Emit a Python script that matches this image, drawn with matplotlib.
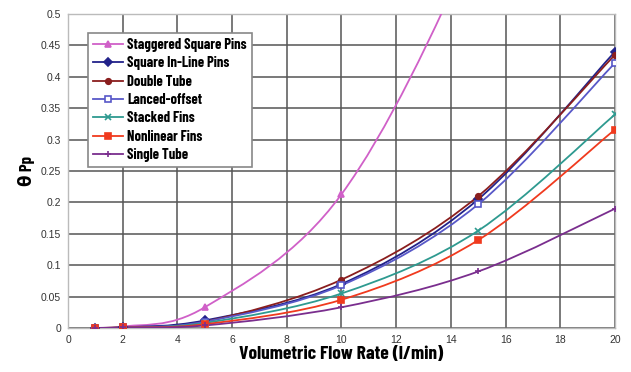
import matplotlib
matplotlib.use('Agg')
import matplotlib.pyplot as plt
import numpy as np
from matplotlib.path import Path
from matplotlib.patches import PathPatch
from matplotlib.lines import Line2D

narrow = ['Liberation Sans Narrow', 'Barlow Condensed', 'DejaVu Sans']
plt.rcParams['font.family'] = ['Liberation Sans', 'DejaVu Sans']

flow = [1, 2, 5, 10, 15, 20]
staggered = [0.0, 0.002, 0.033, 0.213, 0.63, 1.2]
inline = [0.0, 0.001, 0.012, 0.070, 0.205, 0.440]
double_tube = [0.0, 0.001, 0.010, 0.077, 0.210, 0.435]
lanced = [0.0, 0.001, 0.010, 0.068, 0.197, 0.422]
stacked = [0.0, 0.001, 0.008, 0.055, 0.155, 0.340]
nonlinear = [0.0, 0.001, 0.006, 0.045, 0.140, 0.316]
single = [0.0, 0.001, 0.004, 0.033, 0.090, 0.190]

series = [
    ('Staggered Square Pins', staggered, '#d060c8', '^', True),
    ('Square In-Line Pins', inline, '#22228a', 'D', True),
    ('Double Tube', double_tube, '#8a1e1e', 'o', True),
    ('Lanced-offset', lanced, '#5858c8', 's', False),
    ('Stacked Fins', stacked, '#2e9a90', 'x', True),
    ('Nonlinear Fins', nonlinear, '#f03a1e', 's', True),
    ('Single Tube', single, '#7a2e8e', '+', True),
]


def smooth_path(x, y):
    # Excel-style smoothed line: cubic bezier through the points
    pts = np.column_stack([x, y]).astype(float)
    n = len(pts)
    verts = [pts[0]]
    codes = [Path.MOVETO]
    for i in range(n - 1):
        p0 = pts[i - 1] if i > 0 else pts[i]
        p1 = pts[i]
        p2 = pts[i + 1]
        p3 = pts[i + 2] if i + 2 < n else pts[i + 1]
        c1 = p1 + (p2 - p0) / 6
        c2 = p2 - (p3 - p1) / 6
        verts += [c1, c2, p2]
        codes += [Path.CURVE4] * 3
    return Path(verts, codes)


fig = plt.figure(figsize=(6.31, 3.72), dpi=100)
ax = fig.add_axes([0.1078, 0.1183, 0.8668, 0.8441])

handles = []
for name, vals, col, mk, filled in series:
    ax.add_patch(PathPatch(smooth_path(flow, vals), facecolor='none',
                           edgecolor=col, linewidth=1.3, zorder=3))
    fc = col if filled else 'white'
    ax.plot(flow, vals, linestyle='none', marker=mk, color=col,
            markerfacecolor=fc, markersize=4, markeredgewidth=1.2, zorder=4)
    handles.append(Line2D([0], [0], color=col, marker=mk, markersize=4,
                          markerfacecolor=fc, markeredgewidth=1.2,
                          linewidth=1.3, label=name))

ax.set_xlim(0, 20)
ax.set_ylim(0, 0.5)
ax.set_xticks(np.arange(0, 21, 2))
ax.set_yticks(np.arange(0, 0.51, 0.05))
ax.set_yticklabels(['0', '0.05', '0.1', '0.15', '0.2', '0.25', '0.3',
                    '0.35', '0.4', '0.45', '0.5'])
ax.grid(True, color='#555555', linewidth=1.1)
ax.set_axisbelow(True)
for s in ax.spines.values():
    s.set_color('#bbbbbb')
    s.set_linewidth(1.0)
ax.tick_params(length=0, labelsize=7.5, colors='#333333', pad=5)

ax.set_xlabel('Volumetric Flow Rate (l/min)', fontsize=14, fontweight='bold',
              family=narrow, labelpad=1)
ax.set_ylabel('θ Pp', fontsize=12, fontweight='bold', family=narrow,
              labelpad=4)

leg = ax.legend(handles=handles, loc='upper left',
                bbox_to_anchor=(0.037, 0.94), borderaxespad=0, frameon=True,
                fancybox=False, edgecolor='#888888', framealpha=1,
                handlelength=2.0, handletextpad=0.3, labelspacing=0.3,
                borderpad=0.35,
                prop={'weight': 'bold', 'size': 10.5, 'family': narrow})
leg.get_frame().set_linewidth(1.2)

fig.savefig('out.png', dpi=100)
